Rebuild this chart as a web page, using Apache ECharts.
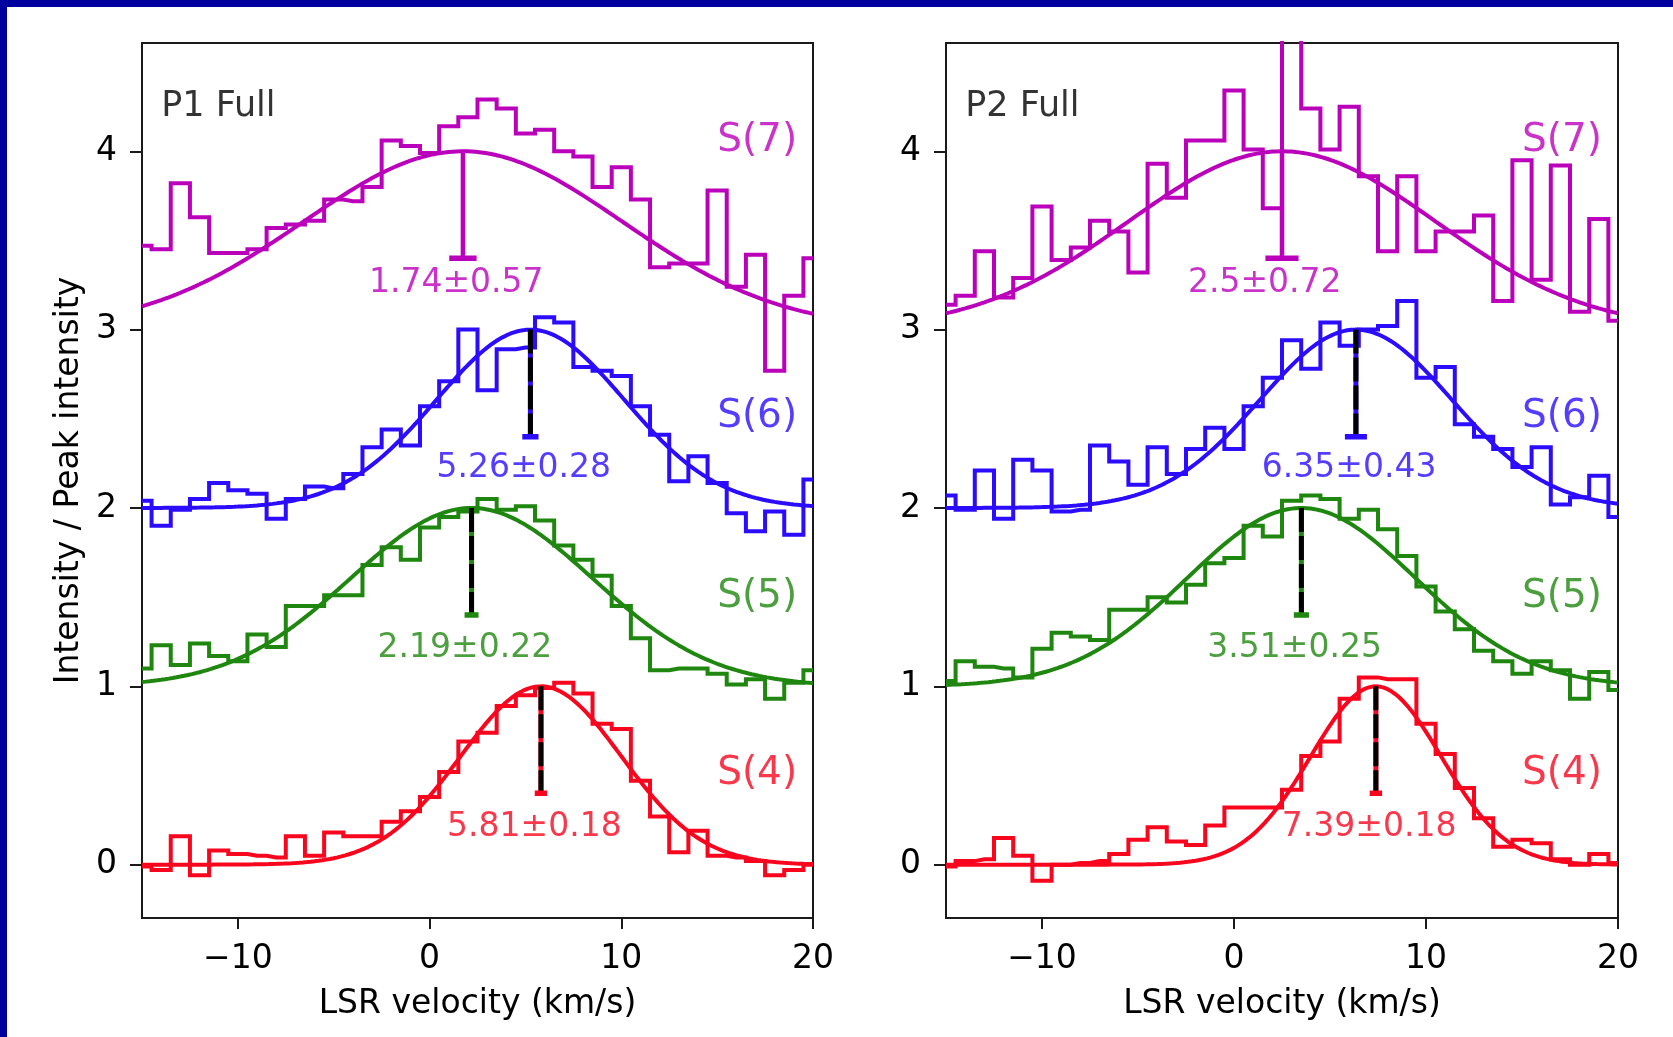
<!DOCTYPE html>
<html>
<head>
<meta charset="utf-8">
<script src="https://cdn.jsdelivr.net/npm/echarts@6/dist/echarts.min.js"></script>
<style>
  html, body { margin: 0; padding: 0; background: #ffffff; }
  #chart { width: 1673px; height: 1037px; }
</style>
</head>
<body>
<div id="chart"></div>
<script>
// Channel velocities (km/s), one value per spectral channel
const velocity = [-15,-14,-13,-12,-11,-10,-9,-8,-7,-6,-5,-4,-3,-2,-1,0,1,2,3,4,5,6,7,8,9,10,11,12,13,14,15,16,17,18,19,20];

// Line names, colours and vertical offsets (stacked spectra)
const lineNames = ['S(4)', 'S(5)', 'S(6)', 'S(7)'];
const lineColors = ['#f8061e', '#1f870f', '#2b0cff', '#bb00bb'];
const lineOffsets = [0, 1, 2, 3];

// P1 normalised spectra (offset included)
const p1S4 = [-0.01,-0.03,0.16,-0.06,0.08,0.06,0.05,0.04,0.16,0.05,0.18,0.16,0.16,0.24,0.30,0.38,0.52,0.69,0.74,0.89,0.95,0.99,1.02,0.96,0.79,0.76,0.47,0.27,0.07,0.19,0.05,0.04,0.02,-0.06,-0.03,0.00];
const p1S5 = [1.10,1.23,1.12,1.24,1.17,1.14,1.29,1.22,1.45,1.45,1.51,1.51,1.68,1.78,1.71,1.89,1.95,1.98,2.05,1.99,2.01,1.93,1.79,1.71,1.62,1.45,1.27,1.09,1.10,1.10,1.07,1.01,1.04,0.93,1.02,1.09];
const p1S6 = [2.04,1.90,1.99,2.05,2.14,2.10,2.08,1.94,2.05,2.12,2.11,2.19,2.34,2.44,2.35,2.57,2.71,3.00,2.66,2.89,2.90,3.07,3.04,2.79,2.77,2.74,2.57,2.41,2.15,2.29,2.14,1.97,1.87,1.98,1.85,2.16];
const p1S7 = [3.47,3.45,3.82,3.63,3.43,3.43,3.45,3.57,3.59,3.61,3.73,3.72,3.80,4.06,4.03,3.99,4.14,4.19,4.29,4.24,4.10,4.12,4.00,3.97,3.80,3.91,3.73,3.35,3.37,3.37,3.78,3.24,3.42,2.77,3.19,3.40];

// P2 normalised spectra (offset included)
const p2S4 = [-0.01,0.02,0.03,0.15,0.05,-0.09,0.00,0.01,0.02,0.06,0.14,0.21,0.13,0.11,0.22,0.32,0.32,0.32,0.42,0.61,0.69,0.93,1.05,1.04,1.04,0.79,0.62,0.43,0.26,0.10,0.14,0.12,0.03,0.00,0.06,0.01];
const p2S5 = [1.03,1.14,1.11,1.10,1.05,1.21,1.30,1.28,1.26,1.43,1.43,1.50,1.47,1.57,1.69,1.72,1.90,1.84,2.04,2.07,2.05,1.94,1.99,1.88,1.73,1.56,1.42,1.32,1.20,1.14,1.07,1.14,1.09,0.93,1.08,0.98];
const p2S6 = [2.07,1.99,2.21,1.94,2.27,2.21,1.98,1.99,2.35,2.26,2.13,2.34,2.19,2.33,2.45,2.33,2.57,2.73,2.94,2.78,3.04,2.91,3.00,3.02,3.16,2.73,2.79,2.47,2.40,2.33,2.23,2.34,2.02,2.06,2.18,1.95];
const p2S7 = [3.14,3.19,3.44,3.18,3.29,3.69,3.39,3.46,3.61,3.55,3.32,3.93,3.74,4.06,4.06,4.34,4.01,3.68,4.75,4.24,4.01,4.25,3.86,3.44,3.86,3.44,3.55,3.55,3.64,3.16,3.95,3.28,3.92,3.10,3.62,3.05];

// Gaussian fit results: centre velocity, its uncertainty, and width (sigma), all km/s
const p1Center = [5.81, 2.19, 5.26, 1.74];
const p1Error  = [0.18, 0.22, 0.28, 0.57];
const p1Sigma  = [4.2, 6.3, 4.9, 8.3];
const p2Center = [7.39, 3.51, 6.35, 2.5];
const p2Error  = [0.18, 0.25, 0.43, 0.72];
const p2Sigma  = [3.4, 5.95, 5.0, 8.0];

// Annotation placement (data units)
const lineLabelX = 15;
const lineLabelY = [0.51, 1.50, 2.51, 4.06];
const valueLabelY = [0.21, 1.21, 2.22, 3.26];
const valueLabelShift = -4.9;
const panelTitles = ['P1 Full', 'P2 Full'];
const panelTitlePos = [-14, 4.25];

// Axis ranges and ticks
const xRange = [-15, 20];
const yRange = [-0.299, 4.607];
const xTicks = [-10, 0, 10, 20];
const yTicks = [0, 1, 2, 3, 4];

const FONT = 'DejaVu Sans';
const INK = '#000000';
const FRAME = '#1a1a1a';

const panels = [
  { title: panelTitles[0], spectra: [p1S4, p1S5, p1S6, p1S7], center: p1Center, error: p1Error, sigma: p1Sigma },
  { title: panelTitles[1], spectra: [p2S4, p2S5, p2S6, p2S7], center: p2Center, error: p2Error, sigma: p2Sigma }
];

const grids = [
  { left: 142, top: 43, width: 671, height: 875 },
  { left: 946, top: 43, width: 672, height: 875 }
];

function fmtTick(v) {
  return v < 0 ? '\u2212' + Math.abs(v) : String(v);
}

const xAxes = grids.map((g, i) => ({
  gridIndex: i, type: 'value', min: xRange[0], max: xRange[1],
  name: 'LSR velocity (km/s)', nameLocation: 'middle', nameGap: 70,
  nameTextStyle: { fontFamily: FONT, fontSize: 33, color: INK },
  axisLine: { show: true, onZero: false, lineStyle: { color: FRAME, width: 2 } },
  axisTick: { show: true, length: 11, customValues: xTicks, lineStyle: { color: FRAME, width: 2 } },
  axisLabel: { customValues: xTicks, formatter: fmtTick, margin: 25, fontFamily: FONT, fontSize: 33, color: INK },
  splitLine: { show: false }
}));

const yAxes = grids.map((g, i) => ({
  gridIndex: i, type: 'value', min: yRange[0], max: yRange[1],
  name: i === 0 ? 'Intensity / Peak intensity' : '',
  nameLocation: 'middle', nameGap: 56,
  nameTextStyle: { fontFamily: FONT, fontSize: 33, color: INK },
  axisLine: { show: true, onZero: false, lineStyle: { color: FRAME, width: 2 } },
  axisTick: { show: true, length: 12, customValues: yTicks, lineStyle: { color: FRAME, width: 2 } },
  axisLabel: { customValues: yTicks, margin: 25, fontFamily: FONT, fontSize: 33, color: INK },
  splitLine: { show: false }
}));

const series = [];
const STEM_BASE = 0.4;

panels.forEach((p, i) => {
  lineNames.forEach((name, k) => {
    const color = lineColors[k];
    const off = lineOffsets[k];
    const c = p.center[k];
    const err = p.error[k];
    const s = p.sigma[k];

    // observed spectrum as a histogram-like step line
    series.push({
      type: 'line', xAxisIndex: i, yAxisIndex: i, step: 'middle',
      symbol: 'none', silent: true, z: 2,
      data: velocity.map((v, j) => [v, p.spectra[k][j]]),
      lineStyle: { color: color, width: 4, join: 'miter' }
    });

    // fitted Gaussian model (unit amplitude above the offset)
    const model = [];
    for (let n = 0; n <= 350; n++) {
      const v = xRange[0] + n * 0.1;
      model.push([v, off + Math.exp(-((v - c) * (v - c)) / (2 * s * s))]);
    }
    series.push({
      type: 'line', xAxisIndex: i, yAxisIndex: i, symbol: 'none', silent: true, z: 3,
      data: model, lineStyle: { color: color, width: 4 }
    });

    // centre marker: stem from peak down, with a cap spanning ±error
    series.push({
      type: 'line', xAxisIndex: i, yAxisIndex: i, symbol: 'none', silent: true, z: 4,
      data: [[c, off + 1], [c, off + STEM_BASE]],
      lineStyle: { color: color, width: k === 3 ? 4.5 : 5, cap: 'butt' }
    });
    if (k < 3) {
      series.push({
        type: 'line', xAxisIndex: i, yAxisIndex: i, symbol: 'none', silent: true, z: 5,
        data: [[c, off + 1], [c, off + STEM_BASE]],
        lineStyle: { color: '#000000', width: 5, type: [24, 4], cap: 'butt' }
      });
    }
    series.push({
      type: 'line', xAxisIndex: i, yAxisIndex: i, symbol: 'none', silent: true, z: 5,
      data: [[c - err, off + STEM_BASE], [c + err, off + STEM_BASE]],
      lineStyle: { color: color, width: 5.5, cap: 'square' }
    });
  });

  // line names on the right
  series.push({
    type: 'scatter', xAxisIndex: i, yAxisIndex: i, symbolSize: 0, silent: true, z: 6,
    data: lineNames.map((n, k) => ({
      value: [lineLabelX, lineLabelY[k]],
      label: { formatter: n, color: lineColors[k] }
    })),
    label: { show: true, position: 'right', distance: 0, fontFamily: FONT, fontSize: 39 }
  });

  // fitted centre ± error text
  series.push({
    type: 'scatter', xAxisIndex: i, yAxisIndex: i, symbolSize: 0, silent: true, z: 6,
    data: lineNames.map((n, k) => ({
      value: [p.center[k] + valueLabelShift, valueLabelY[k]],
      label: { formatter: p.center[k] + '\u00b1' + p.error[k], color: lineColors[k] }
    })),
    label: { show: true, position: 'right', distance: 0, fontFamily: FONT, fontSize: 33 }
  });

  // panel title
  series.push({
    type: 'scatter', xAxisIndex: i, yAxisIndex: i, symbolSize: 0, silent: true, z: 6,
    data: [{ value: panelTitlePos, label: { formatter: p.title } }],
    label: { show: true, position: 'right', distance: 0, fontFamily: FONT, fontSize: 35, color: INK }
  });
});

const chart = echarts.init(document.getElementById('chart'), null, { renderer: 'canvas', width: 1673, height: 1037 });
chart.setOption({
  animation: false,
  backgroundColor: '#ffffff',
  textStyle: { fontFamily: FONT },
  grid: grids.map(g => Object.assign({ show: true, borderColor: FRAME, borderWidth: 2, backgroundColor: 'transparent', containLabel: false }, g)),
  xAxis: xAxes,
  yAxis: yAxes,
  series: series,
  graphic: [
    { type: 'rect', left: 0, top: 0, shape: { width: 1673, height: 7 }, style: { fill: '#00009e' }, silent: true },
    { type: 'rect', left: 0, top: 0, shape: { width: 7, height: 1037 }, style: { fill: '#00009e' }, silent: true }
  ]
});
</script>
</body>
</html>
